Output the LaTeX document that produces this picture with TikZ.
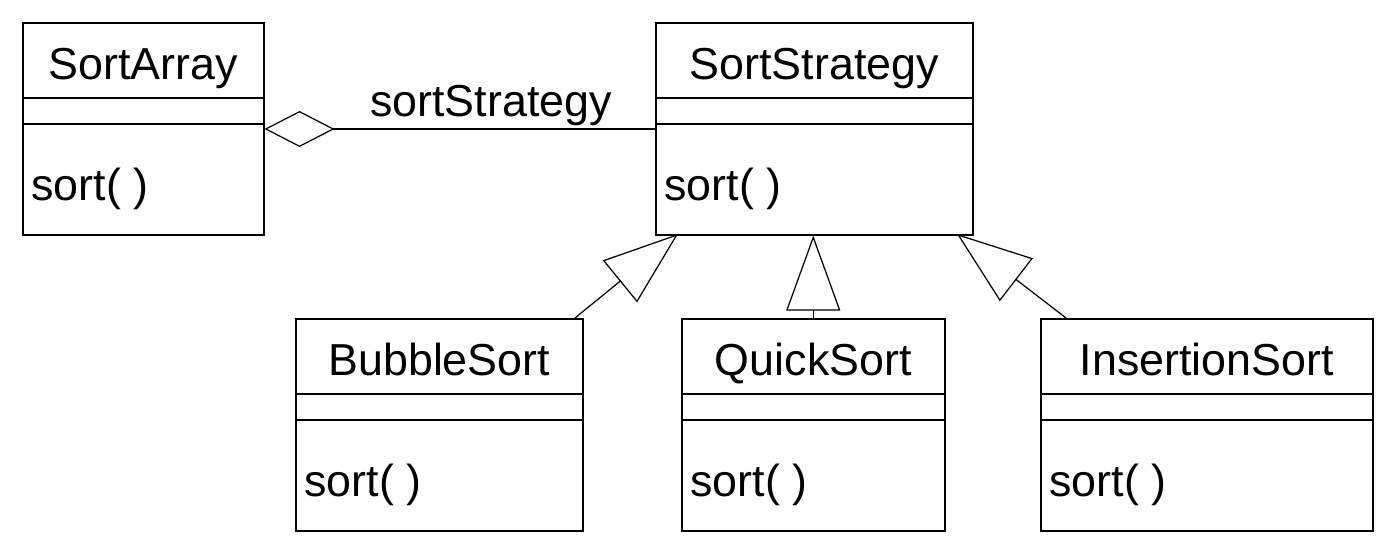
\documentclass[tikz,border=0pt]{standalone}
\usepackage{fontspec}
\setmainfont{Liberation Sans}
\usepackage{tikz}
\usetikzlibrary{arrows.meta}

\begin{document}
\begin{tikzpicture}[x=0.02cm,y=0.02cm,
  font=\fontsize{25.5pt}{30pt}\selectfont,
  classbox/.style={draw,line width=0.9pt,inner sep=0pt,anchor=north west,minimum height=4.24cm},
  sepline/.style={line width=0.9pt},
  classname/.style={anchor=base,inner sep=0pt},
  operation/.style={anchor=base west,inner sep=0pt},
  aggregation/.style={line width=0.7pt,{Diamond[open,length=1.4cm,width=0.72cm]}-},
  inherits/.style={line width=0.7pt,-{Triangle[open,length=1.5cm,width=1.08cm]}}]
  \useasboundingbox (0,0) rectangle (1392,543);
  % SortArray
  \node[classbox,minimum width=4.82cm] (sa) at (22,521) {};
  \draw[sepline] ([yshift=-1.52cm]sa.north west) -- ([yshift=-1.52cm]sa.north east);
  \draw[sepline] ([yshift=-2.04cm]sa.north west) -- ([yshift=-2.04cm]sa.north east);
  \node[classname] (saname) at ([yshift=-1.16cm]sa.north) {SortArray};
  \node[operation] (saop) at ([shift={(0.18cm,-3.58cm)}]sa.north west) {sort( )};
  % SortStrategy
  \node[classbox,minimum width=6.34cm] (ss) at (655,521) {};
  \draw[sepline] ([yshift=-1.52cm]ss.north west) -- ([yshift=-1.52cm]ss.north east);
  \draw[sepline] ([yshift=-2.04cm]ss.north west) -- ([yshift=-2.04cm]ss.north east);
  \node[classname] (ssname) at ([yshift=-1.16cm]ss.north) {SortStrategy};
  \node[operation] (ssop) at ([shift={(0.18cm,-3.58cm)}]ss.north west) {sort( )};
  % BubbleSort
  \node[classbox,minimum width=5.74cm] (bs) at (295,225) {};
  \draw[sepline] ([yshift=-1.52cm]bs.north west) -- ([yshift=-1.52cm]bs.north east);
  \draw[sepline] ([yshift=-2.04cm]bs.north west) -- ([yshift=-2.04cm]bs.north east);
  \node[classname] (bsname) at ([yshift=-1.16cm]bs.north) {BubbleSort};
  \node[operation] (bsop) at ([shift={(0.18cm,-3.58cm)}]bs.north west) {sort( )};
  % QuickSort
  \node[classbox,minimum width=5.26cm] (qs) at (681,225) {};
  \draw[sepline] ([yshift=-1.52cm]qs.north west) -- ([yshift=-1.52cm]qs.north east);
  \draw[sepline] ([yshift=-2.04cm]qs.north west) -- ([yshift=-2.04cm]qs.north east);
  \node[classname] (qsname) at ([yshift=-1.16cm]qs.north) {QuickSort};
  \node[operation] (qsop) at ([shift={(0.18cm,-3.58cm)}]qs.north west) {sort( )};
  % InsertionSort
  \node[classbox,minimum width=6.64cm] (is) at (1040,225) {};
  \draw[sepline] ([yshift=-1.52cm]is.north west) -- ([yshift=-1.52cm]is.north east);
  \draw[sepline] ([yshift=-2.04cm]is.north west) -- ([yshift=-2.04cm]is.north east);
  \node[classname] (isname) at ([yshift=-1.16cm]is.north) {InsertionSort};
  \node[operation] (isop) at ([shift={(0.18cm,-3.58cm)}]is.north west) {sort( )};
  % relations
  \coordinate (aggy) at (0,414);
  \draw[aggregation] (sa.east |- aggy) -- (ss.west |- aggy)
    node[pos=0.58,anchor=base,inner sep=0pt,yshift=0.24cm] (role) {sortStrategy};
  \coordinate (bsfoot) at (575,225);
  \coordinate (bstip) at (678,309);
  \draw[inherits] (bsfoot) -- (bstip);
  \draw[inherits] (qs.north) -- (qs.north |- ss.south);
  \coordinate (isfoot) at (1066,225);
  \coordinate (istip) at (957,309);
  \draw[inherits] (isfoot) -- (istip);
\end{tikzpicture}
\end{document}
